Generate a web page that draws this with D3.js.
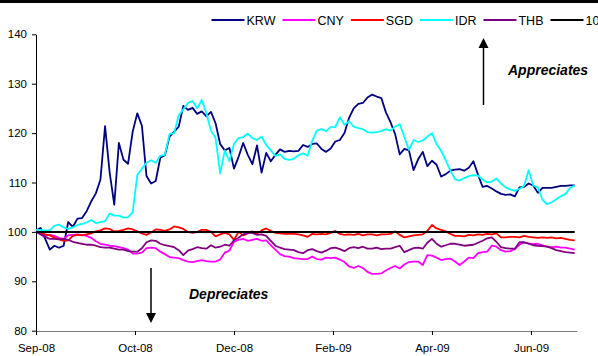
<!DOCTYPE html>
<html><head><meta charset="utf-8">
<script src="https://cdn.jsdelivr.net/npm/d3@7"></script>
<style>body{margin:0;background:#fff}svg{display:block;font-family:"Liberation Sans",Arial,sans-serif}</style>
</head><body><svg id="c" width="598" height="356"></svg>
<script>
const seriesNames = ["KRW","CNY","SGD","IDR","THB","100"];
const seriesColors = ["#000080","#FF00FF","#FF0000","#00FFFF","#800080","#000000"];
const tickDays = [0,43,86,129,172,215];
const tickLabels = ["Sep-08","Oct-08","Dec-08","Feb-09","Apr-09","Jun-09"];
const yTicks = [80,90,100,110,120,130,140];
const dayStep = 2;

const krw = [100.3,100.8,98.6,96.4,97.2,96.8,97.2,102.0,101.0,102.7,
102.8,104.2,106.2,107.8,110.6,121.4,112.0,105.5,118.0,114.6,
113.8,120.3,124.0,121.5,111.3,109.8,110.3,115.0,115.5,119.3,
120.3,121.3,125.5,124.7,125.1,123.9,124.4,123.4,124.3,122.0,
117.8,116.5,117.0,112.8,115.2,118.0,115.6,113.7,117.5,112.0,
116.0,114.3,115.6,116.7,116.2,116.4,116.3,116.4,117.6,117.2,
117.8,117.9,116.8,116.2,116.9,118.3,118.6,120.0,123.1,125.0,
125.9,126.1,127.2,127.8,127.4,127.1,124.2,122.2,119.8,115.7,
116.8,116.5,112.5,114.7,116.2,113.3,114.4,113.6,111.2,111.7,
112.4,112.6,112.7,112.4,113.0,114.3,111.6,109.1,109.3,108.8,
108.2,107.7,107.5,107.6,107.2,109.0,109.1,109.8,109.4,107.9,
108.9,108.9,108.9,109.1,109.3,109.3,109.4,109.4];

const cny = [100.1,99.6,99.2,99.4,99.2,98.8,98.6,99.3,99.4,99.5,
99.4,99.2,98.8,98.1,97.6,97.4,97.2,97.1,96.9,96.7,
96.4,95.6,95.6,95.8,96.7,96.8,96.7,96.0,95.5,94.9,
94.8,94.7,94.3,94.0,93.9,94.1,94.3,94.1,94.0,94.0,
94.4,95.8,96.2,98.0,98.4,98.6,98.2,98.4,98.6,98.2,
98.3,97.3,96.4,95.5,95.1,95.0,94.7,94.6,94.5,94.5,
95.0,94.5,94.4,94.8,94.7,94.8,94.4,93.9,93.0,92.7,
93.1,92.7,91.9,91.5,91.5,91.6,92.2,92.7,93.1,92.6,
93.4,93.9,94.0,94.0,93.3,95.3,95.2,94.8,94.3,94.5,
94.6,94.0,93.3,94.0,94.8,94.7,95.7,95.9,96.0,97.2,
97.0,96.3,96.0,96.1,96.5,97.4,97.9,97.7,97.5,97.6,
97.3,97.0,96.9,97.0,96.8,96.8,96.6,96.4];

const sgd = [100.1,99.8,99.5,99.3,98.8,98.5,98.2,98.3,99.2,99.4,
99.3,99.5,99.7,100.1,100.3,100.7,100.6,100.1,100.2,100.4,
100.7,100.5,100.1,99.7,99.4,99.9,100.5,100.4,100.2,100.5,
101.1,100.9,100.6,100.0,99.8,100.0,100.4,100.4,100.0,99.1,
99.5,99.8,99.5,98.4,100.0,99.3,99.7,100.1,99.6,100.3,
100.7,100.2,99.8,99.7,99.6,99.6,99.6,99.5,99.3,99.0,
99.6,99.5,99.6,99.5,99.8,100.2,99.6,99.4,99.5,99.4,
99.6,99.3,99.5,99.5,99.3,99.5,99.5,99.6,100.1,99.4,
98.9,99.1,99.3,99.4,99.5,100.2,101.4,100.7,100.4,100.1,
99.6,99.2,99.2,99.1,99.4,99.3,99.5,99.4,99.6,99.5,
99.7,98.9,98.9,99.0,99.0,98.9,99.2,99.0,98.9,98.8,
98.9,98.8,98.9,98.7,98.8,98.6,98.4,98.3];

const idr = [100.4,100.4,100.3,100.3,101.2,101.5,100.9,100.6,100.9,101.4,
101.6,101.9,102.4,101.8,102.0,102.2,103.7,103.3,103.3,102.9,
103.0,104.0,111.5,112.8,114.0,114.5,114.0,115.4,115.6,119.8,
120.0,123.6,124.8,126.1,126.5,125.0,126.7,124.0,120.5,119.0,
111.8,116.5,114.3,117.8,119.0,119.2,119.9,119.0,118.6,119.3,
117.6,116.5,115.4,115.7,114.8,114.6,114.8,115.5,115.9,115.4,
118.5,120.5,120.8,120.4,121.2,121.2,123.2,121.7,122.4,121.3,
121.0,120.8,120.2,120.1,120.2,120.4,120.8,120.5,121.3,121.8,
119.2,116.6,118.6,118.2,118.5,119.3,120.0,117.8,116.4,114.5,
112.4,110.7,110.4,110.9,111.3,111.5,111.4,110.6,110.0,110.2,
110.8,109.8,109.0,108.6,108.3,108.7,109.3,112.5,109.4,109.0,
106.5,105.6,106.0,106.6,107.2,107.7,108.9,109.4];

const thb = [100.1,99.5,99.0,98.6,98.6,98.5,98.6,98.4,98.0,97.8,
97.6,97.4,97.4,97.2,96.9,96.8,96.8,96.6,96.4,96.4,
96.1,96.0,96.0,96.7,97.9,98.3,98.2,97.6,97.3,97.1,
96.9,96.3,95.3,96.2,96.5,96.9,96.7,96.6,97.3,96.8,
97.0,97.4,97.2,98.3,98.8,99.5,99.8,99.8,99.4,99.5,
99.2,98.2,97.2,96.8,96.5,96.4,96.3,95.9,95.7,96.3,
96.5,96.1,95.8,96.2,96.7,96.8,96.5,96.1,96.7,96.9,
96.7,97.0,96.6,96.6,96.8,96.5,96.6,96.6,96.9,97.2,
95.9,96.3,96.7,96.8,96.6,97.8,98.6,97.6,97.0,97.3,
97.6,97.6,97.4,97.2,97.3,97.4,97.8,98.2,98.7,98.9,
98.0,96.9,96.7,96.6,96.6,97.9,97.9,97.6,97.3,97.2,
97.1,97.0,96.7,96.3,96.1,95.9,95.8,95.7];

const base = krw.map(() => 100);
const allSeries = [krw, cny, sgd, idr, thb, base];

const svg = d3.select("#c");
svg.append("rect").attr("width",598).attr("height",356).attr("fill","#fff");
svg.append("rect").attr("x",0).attr("y",0).attr("width",598).attr("height",3).attr("fill","#000");

const x = d3.scaleLinear().domain([0,235]).range([36,577]);
const y = d3.scaleLinear().domain([80,140]).range([330.7,34.3]);

// axes
const yAxis = svg.append("g").attr("transform","translate(36,0)")
  .call(d3.axisLeft(y).tickValues(yTicks).tickSize(4).tickSizeOuter(0).tickPadding(5));
yAxis.select(".domain").attr("stroke","#000");
yAxis.selectAll("text").attr("font-size","11.5px").attr("fill","#000").attr("font-family","Liberation Sans, Arial, sans-serif");

const xAxis = svg.append("g").attr("transform","translate(0,331)")
  .call(d3.axisBottom(x).tickValues(tickDays).tickFormat((d,i)=>tickLabels[i]).tickSize(4).tickSizeOuter(0).tickPadding(9));
xAxis.select(".domain").attr("stroke","#808080");
xAxis.selectAll("text").attr("font-size","11.5px").attr("fill","#000").attr("font-family","Liberation Sans, Arial, sans-serif");

// lines
const line = d3.line().x((d,i)=>x(i*dayStep)).y(d=>y(d));
allSeries.forEach((s,i)=>{
  svg.append("path").datum(s).attr("d",line).attr("fill","none")
    .attr("stroke",seriesColors[i]).attr("stroke-width", i===5 ? 2 : 1.8)
    .attr("stroke-linejoin","round");
});

// legend
const lg = svg.append("g");
let lx = 211.5;
seriesNames.forEach((n,i)=>{
  lg.append("line").attr("x1",lx).attr("x2",lx+33).attr("y1",20).attr("y2",20)
    .attr("stroke",seriesColors[i]).attr("stroke-width",2);
  const t = lg.append("text").attr("x",lx+35).attr("y",24.5).attr("font-size","12.5px").text(n);
  lx += 35 + t.node().getComputedTextLength() + 7;
});

// annotations
svg.append("text").attr("x",508).attr("y",75).attr("font-size","14px")
  .attr("font-weight","bold").attr("font-style","italic").text("Appreciates");
svg.append("text").attr("x",189).attr("y",298.5).attr("font-size","14px")
  .attr("font-weight","bold").attr("font-style","italic").text("Depreciates");

svg.append("line").attr("x1",483.5).attr("x2",483.5).attr("y1",105).attr("y2",46).attr("stroke","#000").attr("stroke-width",1.5);
svg.append("path").attr("d","M483.5,38 L478.5,48 L488.5,48 Z").attr("fill","#000");
svg.append("line").attr("x1",151).attr("x2",151).attr("y1",268).attr("y2",314).attr("stroke","#000").attr("stroke-width",1.5);
svg.append("path").attr("d","M151,323 L146,313 L156,313 Z").attr("fill","#000");
</script></body></html>
